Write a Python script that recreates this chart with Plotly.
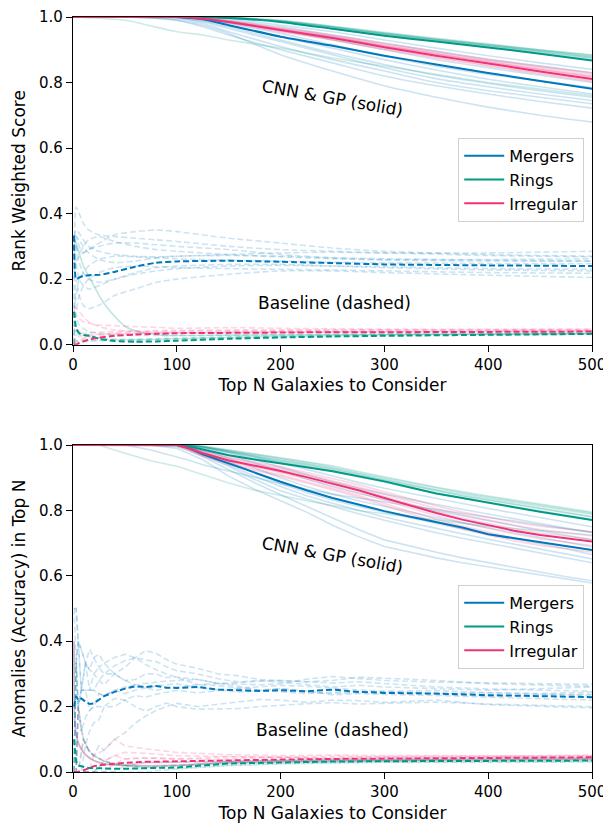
import plotly.graph_objects as go

# ---------------- colours ----------------
C_MERG = "#0077BB"
C_RING = "#009988"
C_IRR = "#EE3377"
F_MERG = "rgba(0,119,187,0.20)"
F_RING = "rgba(0,153,136,0.20)"
F_IRR = "rgba(238,51,119,0.20)"

# ============ TOP PANEL: rank weighted score ============
n_top_solid = [0, 50, 100, 125, 150, 200, 250, 300, 350, 400, 450, 500]
top_merg_cnn = [1.0, 1.0, 1.0, 0.993, 0.975, 0.94, 0.912, 0.882, 0.855, 0.829, 0.805, 0.781]
top_ring_cnn = [1.0, 1.0, 1.0, 1.0, 0.997, 0.985, 0.964, 0.943, 0.925, 0.907, 0.888, 0.867]
top_irr_cnn = [1.0, 1.0, 1.0, 0.995, 0.985, 0.96, 0.936, 0.908, 0.882, 0.858, 0.834, 0.811]

top_merg_cnn_runs = [
    [1, 1, 0.99, 0.975, 0.95, 0.885, 0.835, 0.79, 0.755, 0.725, 0.70, 0.679],
    [1, 1, 0.99, 0.97, 0.945, 0.90, 0.86, 0.82, 0.79, 0.765, 0.742, 0.722],
    [1, 1, 0.995, 0.98, 0.955, 0.91, 0.87, 0.835, 0.80, 0.775, 0.755, 0.735],
    [1, 1, 0.998, 0.985, 0.965, 0.925, 0.885, 0.845, 0.812, 0.787, 0.765, 0.745],
    [1, 1, 0.998, 0.988, 0.97, 0.93, 0.89, 0.855, 0.822, 0.797, 0.775, 0.755],
    [1, 1, 1, 0.99, 0.975, 0.94, 0.905, 0.87, 0.838, 0.81, 0.787, 0.765],
    [1, 1, 1, 0.993, 0.98, 0.95, 0.915, 0.88, 0.85, 0.825, 0.805, 0.785],
    [1, 1, 1, 0.995, 0.985, 0.96, 0.93, 0.90, 0.87, 0.845, 0.822, 0.80],
    [1, 1, 1, 0.997, 0.99, 0.97, 0.945, 0.92, 0.895, 0.87, 0.85, 0.83],
    [1, 1, 1, 1, 0.995, 0.975, 0.955, 0.93, 0.905, 0.882, 0.86, 0.84],
]
top_ring_cnn_runs = [
    [1, 1, 1, 1, 0.998, 0.988, 0.97, 0.95, 0.932, 0.915, 0.898, 0.88],
    [1, 1, 1, 1, 0.998, 0.99, 0.972, 0.953, 0.935, 0.918, 0.9, 0.883],
    [1, 1, 1, 1, 0.997, 0.986, 0.967, 0.947, 0.929, 0.911, 0.893, 0.874],
    [1, 1, 1, 1, 0.998, 0.989, 0.971, 0.951, 0.933, 0.916, 0.899, 0.885],
    [1, 1, 1, 1, 0.996, 0.984, 0.964, 0.944, 0.926, 0.908, 0.889, 0.87],
    [1, 1, 1, 1, 0.998, 0.988, 0.969, 0.949, 0.931, 0.914, 0.896, 0.878],
    [1, 1, 1, 1, 0.997, 0.987, 0.968, 0.948, 0.93, 0.912, 0.894, 0.876],
    [1, 0.99, 0.955, 0.945, 0.93, 0.905, 0.875, 0.85, 0.825, 0.80, 0.78, 0.76],
]
top_irr_cnn_runs = [
    [1, 1, 1, 0.996, 0.987, 0.963, 0.94, 0.913, 0.888, 0.864, 0.842, 0.82],
    [1, 1, 1, 0.997, 0.988, 0.965, 0.942, 0.916, 0.891, 0.868, 0.846, 0.825],
    [1, 1, 1, 0.994, 0.983, 0.957, 0.932, 0.904, 0.878, 0.853, 0.829, 0.806],
    [1, 1, 1, 0.995, 0.985, 0.96, 0.937, 0.91, 0.885, 0.861, 0.838, 0.815],
    [1, 1, 1, 0.993, 0.982, 0.955, 0.93, 0.901, 0.875, 0.85, 0.826, 0.803],
    [1, 1, 1, 0.997, 0.989, 0.967, 0.945, 0.92, 0.895, 0.872, 0.85, 0.83],
    [1, 1, 1, 0.996, 0.986, 0.962, 0.939, 0.912, 0.887, 0.863, 0.84, 0.818],
]
# early decaying faint solid curve (top)
n_top_decay = [1, 5, 10, 19, 27, 35, 51, 65, 83, 100, 150, 250, 500]
top_ring_decay = [0.33, 0.29, 0.24, 0.187, 0.14, 0.105, 0.054, 0.038, 0.03, 0.028, 0.029, 0.031, 0.035]

n_top_base = [1, 3, 6, 10, 15, 25, 40, 60, 80, 100, 150, 200, 250, 300, 400, 500]
top_merg_base = [0.333, 0.2, 0.205, 0.21, 0.212, 0.213, 0.222, 0.238, 0.25, 0.254, 0.256, 0.253, 0.249, 0.245, 0.242, 0.24]
top_irr_base = [0.0, 0.0, 0.005, 0.01, 0.015, 0.021, 0.027, 0.031, 0.033, 0.035, 0.036, 0.037, 0.038, 0.038, 0.039, 0.04]
top_ring_base = [0.1, 0.05, 0.035, 0.03, 0.028, 0.018, 0.011, 0.009, 0.01, 0.012, 0.018, 0.022, 0.025, 0.027, 0.03, 0.033]

top_merg_base_runs = [
    [0.0, 0.42, 0.40, 0.37, 0.35, 0.335, 0.33, 0.325, 0.32, 0.315, 0.30, 0.29, 0.285, 0.28, 0.28, 0.285],
    [0.0, 0.2, 0.15, 0.12, 0.11, 0.12, 0.15, 0.17, 0.19, 0.20, 0.215, 0.225, 0.225, 0.22, 0.212, 0.205],
    [0.33, 0.33, 0.3, 0.28, 0.29, 0.31, 0.335, 0.345, 0.35, 0.345, 0.325, 0.31, 0.295, 0.285, 0.275, 0.27],
    [0.33, 0.25, 0.2, 0.18, 0.17, 0.18, 0.2, 0.22, 0.235, 0.24, 0.245, 0.245, 0.24, 0.235, 0.228, 0.225],
    [0.33, 0.3, 0.28, 0.3, 0.32, 0.33, 0.315, 0.3, 0.29, 0.285, 0.275, 0.268, 0.262, 0.258, 0.255, 0.255],
    [0.2, 0.25, 0.27, 0.28, 0.29, 0.3, 0.31, 0.31, 0.305, 0.3, 0.29, 0.275, 0.265, 0.26, 0.26, 0.262],
    [0.33, 0.3, 0.25, 0.22, 0.2, 0.19, 0.2, 0.215, 0.225, 0.232, 0.24, 0.242, 0.24, 0.238, 0.232, 0.23],
    [0.1, 0.15, 0.2, 0.22, 0.24, 0.26, 0.27, 0.268, 0.265, 0.262, 0.258, 0.255, 0.252, 0.25, 0.248, 0.247],
    [0.33, 0.33, 0.32, 0.3, 0.28, 0.26, 0.25, 0.255, 0.265, 0.27, 0.272, 0.27, 0.265, 0.262, 0.258, 0.255],
    [0.0, 0.1, 0.15, 0.18, 0.2, 0.22, 0.235, 0.24, 0.238, 0.235, 0.232, 0.23, 0.228, 0.225, 0.22, 0.218],
    [0.33, 0.35, 0.34, 0.32, 0.3, 0.285, 0.275, 0.27, 0.268, 0.27, 0.275, 0.28, 0.282, 0.28, 0.272, 0.268],
]
top_irr_base_runs = [
    [0.1, 0.09, 0.08, 0.07, 0.065, 0.06, 0.058, 0.055, 0.053, 0.05, 0.052, 0.05, 0.048, 0.047, 0.046, 0.046],
    [0.0, 0.01, 0.015, 0.02, 0.025, 0.03, 0.035, 0.038, 0.04, 0.041, 0.042, 0.043, 0.043, 0.044, 0.044, 0.045],
    [0.0, 0.0, 0.01, 0.015, 0.02, 0.025, 0.03, 0.033, 0.035, 0.036, 0.038, 0.039, 0.04, 0.04, 0.041, 0.042],
    [0.05, 0.04, 0.035, 0.035, 0.036, 0.038, 0.04, 0.042, 0.043, 0.044, 0.045, 0.045, 0.046, 0.046, 0.047, 0.048],
    [0.0, 0.02, 0.025, 0.028, 0.03, 0.032, 0.033, 0.034, 0.035, 0.036, 0.037, 0.038, 0.039, 0.04, 0.04, 0.041],
    [0.12, 0.11, 0.1, 0.085, 0.07, 0.055, 0.045, 0.04, 0.038, 0.037, 0.037, 0.038, 0.038, 0.039, 0.04, 0.04],
]
top_ring_base_runs = [
    [0.1, 0.06, 0.04, 0.03, 0.025, 0.02, 0.017, 0.016, 0.017, 0.018, 0.022, 0.025, 0.027, 0.029, 0.031, 0.033],
    [0.0, 0.0, 0.005, 0.008, 0.01, 0.012, 0.014, 0.016, 0.018, 0.02, 0.024, 0.027, 0.029, 0.03, 0.032, 0.034],
    [0.0, 0.03, 0.03, 0.028, 0.025, 0.02, 0.015, 0.014, 0.015, 0.017, 0.021, 0.024, 0.026, 0.028, 0.03, 0.031],
    [0.1, 0.08, 0.06, 0.05, 0.04, 0.035, 0.03, 0.028, 0.028, 0.028, 0.029, 0.03, 0.031, 0.032, 0.033, 0.035],
    [0.0, 0.01, 0.012, 0.013, 0.013, 0.013, 0.013, 0.014, 0.016, 0.018, 0.022, 0.025, 0.028, 0.03, 0.032, 0.033],
]

# ============ BOTTOM PANEL: accuracy in top N ============
n_bot_solid = [0, 25, 50, 75, 100, 110, 125, 150, 175, 200, 225, 250, 275, 300, 325, 350, 375, 400, 425, 450, 475, 500]
bot_merg_cnn = [1, 1, 1, 1, 1.0, 0.993, 0.972, 0.944, 0.915, 0.888, 0.862, 0.838, 0.818, 0.798, 0.781, 0.765, 0.748, 0.727, 0.715, 0.703, 0.692, 0.679]
bot_ring_cnn = [1, 1, 1, 1, 1.0, 0.997, 0.987, 0.969, 0.956, 0.945, 0.932, 0.92, 0.905, 0.889, 0.87, 0.852, 0.838, 0.823, 0.81, 0.796, 0.783, 0.771]
bot_irr_cnn = [1, 1, 1, 1, 1.0, 0.992, 0.975, 0.953, 0.937, 0.921, 0.902, 0.882, 0.862, 0.838, 0.815, 0.792, 0.772, 0.754, 0.738, 0.725, 0.714, 0.705]

bot_merg_cnn_runs = [
    [1, 1, 1, 1, 0.99, 0.975, 0.955, 0.905, 0.865, 0.83, 0.795, 0.755, 0.72, 0.69, 0.672, 0.655, 0.64, 0.628, 0.615, 0.603, 0.59, 0.578],
    [1, 1, 1, 1, 0.995, 0.985, 0.965, 0.925, 0.885, 0.848, 0.812, 0.778, 0.742, 0.71, 0.69, 0.672, 0.655, 0.64, 0.625, 0.61, 0.597, 0.585],
    [1, 1, 1, 1, 1, 0.99, 0.97, 0.935, 0.895, 0.86, 0.835, 0.812, 0.79, 0.77, 0.75, 0.732, 0.715, 0.70, 0.685, 0.67, 0.655, 0.64],
    [1, 1, 1, 1, 1, 0.99, 0.975, 0.94, 0.905, 0.873, 0.845, 0.822, 0.80, 0.78, 0.762, 0.745, 0.728, 0.712, 0.697, 0.682, 0.668, 0.652],
    [1, 1, 1, 1, 1, 0.995, 0.98, 0.95, 0.915, 0.882, 0.855, 0.832, 0.812, 0.794, 0.776, 0.76, 0.744, 0.728, 0.713, 0.698, 0.683, 0.665],
    [1, 1, 1, 1, 1, 0.995, 0.985, 0.96, 0.93, 0.90, 0.873, 0.85, 0.83, 0.812, 0.795, 0.778, 0.762, 0.747, 0.732, 0.717, 0.703, 0.688],
    [1, 1, 1, 1, 1, 1, 0.99, 0.97, 0.945, 0.92, 0.895, 0.872, 0.852, 0.834, 0.817, 0.80, 0.784, 0.768, 0.753, 0.738, 0.724, 0.71],
    [1, 1, 1, 1, 1, 1, 0.995, 0.978, 0.955, 0.932, 0.91, 0.888, 0.868, 0.85, 0.834, 0.818, 0.803, 0.788, 0.774, 0.76, 0.746, 0.733],
    [1, 1, 1, 1, 1, 1, 0.995, 0.982, 0.965, 0.945, 0.925, 0.905, 0.886, 0.868, 0.852, 0.836, 0.821, 0.806, 0.792, 0.778, 0.764, 0.75],
    [1, 1, 1, 0.985, 0.965, 0.955, 0.94, 0.92, 0.9, 0.882, 0.865, 0.85, 0.838, 0.826, 0.814, 0.802, 0.79, 0.778, 0.766, 0.755, 0.744, 0.733],
]
bot_ring_cnn_runs = [
    [1, 1, 1, 1, 1, 1, 0.995, 0.982, 0.968, 0.956, 0.944, 0.93, 0.912, 0.897, 0.88, 0.864, 0.85, 0.837, 0.825, 0.812, 0.8, 0.788],
    [1, 1, 1, 1, 1, 1, 0.993, 0.978, 0.964, 0.951, 0.939, 0.925, 0.907, 0.891, 0.874, 0.858, 0.844, 0.831, 0.818, 0.805, 0.792, 0.78],
    [1, 1, 1, 1, 1, 1, 0.997, 0.986, 0.973, 0.961, 0.95, 0.937, 0.919, 0.904, 0.887, 0.871, 0.857, 0.844, 0.832, 0.819, 0.807, 0.795],
    [1, 1, 1, 1, 1, 1, 0.992, 0.976, 0.961, 0.948, 0.935, 0.921, 0.903, 0.886, 0.869, 0.853, 0.838, 0.825, 0.812, 0.799, 0.786, 0.773],
    [1, 1, 1, 1, 1, 1, 0.996, 0.984, 0.971, 0.959, 0.947, 0.933, 0.915, 0.9, 0.884, 0.868, 0.854, 0.841, 0.829, 0.816, 0.804, 0.792],
    [1, 1, 1, 1, 1, 1, 0.994, 0.98, 0.966, 0.953, 0.941, 0.927, 0.909, 0.893, 0.876, 0.86, 0.846, 0.833, 0.82, 0.807, 0.794, 0.781],
    [1, 1, 0.975, 0.952, 0.935, 0.925, 0.908, 0.884, 0.862, 0.845, 0.83, 0.815, 0.80, 0.79, 0.78, 0.77, 0.76, 0.752, 0.745, 0.738, 0.732, 0.725],
]
bot_irr_cnn_runs = [
    [1, 1, 1, 1, 1, 0.995, 0.98, 0.96, 0.944, 0.929, 0.91, 0.891, 0.872, 0.85, 0.828, 0.806, 0.787, 0.77, 0.755, 0.742, 0.731, 0.722],
    [1, 1, 1, 1, 0.998, 0.988, 0.968, 0.944, 0.926, 0.909, 0.888, 0.867, 0.846, 0.821, 0.797, 0.773, 0.752, 0.733, 0.716, 0.701, 0.69, 0.68],
    [1, 1, 1, 1, 1, 0.993, 0.977, 0.956, 0.94, 0.925, 0.906, 0.886, 0.867, 0.843, 0.82, 0.797, 0.777, 0.76, 0.744, 0.731, 0.721, 0.712],
    [1, 1, 1, 1, 0.999, 0.99, 0.972, 0.949, 0.932, 0.916, 0.896, 0.875, 0.855, 0.831, 0.807, 0.784, 0.763, 0.745, 0.728, 0.714, 0.703, 0.693],
    [1, 1, 1, 1, 1, 0.996, 0.983, 0.963, 0.948, 0.934, 0.916, 0.897, 0.879, 0.857, 0.835, 0.814, 0.795, 0.779, 0.764, 0.752, 0.743, 0.735],
    [1, 1, 1, 1, 0.998, 0.986, 0.965, 0.94, 0.922, 0.905, 0.884, 0.862, 0.841, 0.815, 0.79, 0.765, 0.743, 0.724, 0.707, 0.693, 0.682, 0.673],
]
n_bot_decay = [1, 2, 5, 10, 15, 20, 30, 50, 100, 150, 200, 300, 400, 500]
bot_irr_decay = [0.4, 0.14, 0.09, 0.06, 0.045, 0.035, 0.025, 0.02, 0.02, 0.03, 0.033, 0.036, 0.038, 0.04]

n_bot_base = [1, 3, 5, 8, 12, 16, 20, 25, 30, 40, 50, 60, 70, 80, 90, 100, 120, 140, 160, 180, 200, 225, 250, 275, 300, 350, 400, 450, 500]
bot_merg_base = [0.2, 0.233, 0.22, 0.225, 0.215, 0.208, 0.21, 0.22, 0.232, 0.245, 0.255, 0.262, 0.26, 0.263, 0.258, 0.257, 0.26, 0.252, 0.25, 0.248, 0.25, 0.247, 0.252, 0.245, 0.242, 0.24, 0.235, 0.232, 0.229]
bot_merg_base_runs = [
    [0.5, 0.5, 0.4, 0.375, 0.333, 0.313, 0.3, 0.32, 0.3, 0.325, 0.34, 0.35, 0.343, 0.338, 0.322, 0.31, 0.3, 0.285, 0.275, 0.28, 0.275, 0.268, 0.26, 0.265, 0.26, 0.255, 0.25, 0.255, 0.26],
    [0.0, 0.0, 0.2, 0.25, 0.25, 0.25, 0.3, 0.28, 0.267, 0.3, 0.32, 0.35, 0.371, 0.363, 0.344, 0.33, 0.317, 0.3, 0.294, 0.283, 0.28, 0.276, 0.28, 0.29, 0.287, 0.28, 0.27, 0.265, 0.262],
    [0.0, 0.0, 0.0, 0.0, 0.083, 0.063, 0.05, 0.08, 0.067, 0.1, 0.12, 0.15, 0.171, 0.188, 0.2, 0.21, 0.2, 0.207, 0.213, 0.222, 0.22, 0.213, 0.22, 0.218, 0.213, 0.22, 0.206, 0.2, 0.196],
    [0.0, 0.333, 0.4, 0.25, 0.25, 0.25, 0.25, 0.24, 0.233, 0.25, 0.24, 0.25, 0.257, 0.263, 0.267, 0.27, 0.258, 0.25, 0.244, 0.25, 0.255, 0.248, 0.236, 0.24, 0.237, 0.234, 0.228, 0.224, 0.22],
    [0.5, 0.333, 0.2, 0.125, 0.167, 0.188, 0.2, 0.2, 0.2, 0.225, 0.22, 0.233, 0.229, 0.238, 0.244, 0.25, 0.242, 0.25, 0.256, 0.261, 0.265, 0.262, 0.256, 0.251, 0.247, 0.24, 0.243, 0.238, 0.234],
    [0.0, 0.333, 0.2, 0.25, 0.333, 0.313, 0.35, 0.36, 0.333, 0.3, 0.28, 0.267, 0.271, 0.275, 0.278, 0.28, 0.283, 0.271, 0.269, 0.267, 0.27, 0.284, 0.292, 0.285, 0.28, 0.275, 0.272, 0.27, 0.268],
    [0.0, 0.0, 0.2, 0.125, 0.083, 0.125, 0.15, 0.16, 0.2, 0.2, 0.22, 0.2, 0.186, 0.2, 0.211, 0.2, 0.192, 0.193, 0.194, 0.2, 0.205, 0.209, 0.212, 0.208, 0.21, 0.214, 0.208, 0.205, 0.2],
    [0.0, 0.333, 0.4, 0.375, 0.333, 0.25, 0.25, 0.28, 0.3, 0.3, 0.28, 0.283, 0.3, 0.3, 0.289, 0.29, 0.283, 0.271, 0.262, 0.25, 0.245, 0.24, 0.244, 0.247, 0.243, 0.238, 0.232, 0.236, 0.238],
    [0.5, 0.5, 0.4, 0.25, 0.25, 0.188, 0.2, 0.24, 0.233, 0.25, 0.26, 0.267, 0.257, 0.25, 0.256, 0.26, 0.267, 0.264, 0.256, 0.25, 0.255, 0.244, 0.24, 0.244, 0.247, 0.249, 0.242, 0.24, 0.244],
    [0.0, 0.0, 0.2, 0.25, 0.333, 0.375, 0.35, 0.32, 0.333, 0.35, 0.36, 0.35, 0.329, 0.313, 0.3, 0.29, 0.267, 0.271, 0.275, 0.278, 0.28, 0.276, 0.272, 0.276, 0.27, 0.26, 0.254, 0.25, 0.247],
]

n_bot_low = [1, 3, 5, 10, 15, 20, 30, 40, 50, 70, 100, 150, 200, 250, 300, 350, 400, 450, 500]
bot_irr_base = [0.0, 0.0, 0.0, 0.005, 0.012, 0.018, 0.022, 0.025, 0.028, 0.031, 0.033, 0.036, 0.038, 0.04, 0.041, 0.042, 0.043, 0.044, 0.045]
bot_ring_base = [0.1, 0.033, 0.02, 0.015, 0.012, 0.012, 0.01, 0.01, 0.01, 0.011, 0.014, 0.026, 0.03, 0.032, 0.033, 0.034, 0.034, 0.035, 0.035]
bot_irr_base_runs = [
    [0, 0, 0.2, 0.1, 0.067, 0.05, 0.067, 0.1, 0.08, 0.071, 0.06, 0.053, 0.05, 0.052, 0.05, 0.051, 0.05, 0.049, 0.05],
    [0, 0, 0, 0, 0, 0.05, 0.033, 0.05, 0.06, 0.057, 0.05, 0.047, 0.045, 0.048, 0.047, 0.046, 0.048, 0.047, 0.048],
    [0, 0, 0, 0, 0, 0, 0.033, 0.025, 0.02, 0.029, 0.03, 0.033, 0.035, 0.04, 0.043, 0.04, 0.042, 0.044, 0.043],
    [0, 0, 0, 0.1, 0.067, 0.05, 0.033, 0.05, 0.04, 0.043, 0.04, 0.04, 0.045, 0.044, 0.047, 0.049, 0.048, 0.05, 0.052],
    [0, 0, 0, 0, 0, 0, 0, 0.025, 0.04, 0.043, 0.04, 0.047, 0.045, 0.04, 0.04, 0.043, 0.045, 0.044, 0.042],
]
bot_ring_base_runs = [
    [0, 0, 0, 0, 0, 0, 0, 0, 0.02, 0.014, 0.02, 0.027, 0.03, 0.032, 0.033, 0.031, 0.032, 0.034, 0.033],
    [0, 0, 0, 0, 0, 0, 0.033, 0.025, 0.02, 0.014, 0.01, 0.02, 0.025, 0.028, 0.03, 0.031, 0.033, 0.032, 0.034],
    [0, 0.333, 0.2, 0.1, 0.067, 0.05, 0.033, 0.025, 0.02, 0.029, 0.03, 0.033, 0.035, 0.036, 0.037, 0.036, 0.038, 0.037, 0.037],
    [0, 0, 0, 0, 0, 0, 0, 0, 0, 0, 0.01, 0.02, 0.025, 0.028, 0.03, 0.029, 0.03, 0.031, 0.03],
    [0, 0, 0, 0.1, 0.067, 0.05, 0.033, 0.025, 0.02, 0.014, 0.02, 0.026, 0.03, 0.032, 0.035, 0.037, 0.036, 0.035, 0.036],
]

series_names = ["Mergers", "Rings", "Irregular"]
y_ticks = [0.0, 0.2, 0.4, 0.6, 0.8, 1.0]
x_ticks = [0, 100, 200, 300, 400, 500]

# ---------------- figure ----------------
fig = go.Figure()
DASH = "6px,3px"


def add(x, y, color, width, dash, ax, shape="linear", name=None, legend=None):
    fig.add_trace(go.Scatter(
        x=x, y=y, mode="lines",
        line=dict(color=color, width=width, dash=dash, shape=shape,
                  **({"smoothing": 0.6} if shape == "spline" else {})),
        xaxis="x" if ax == 1 else "x2", yaxis="y" if ax == 1 else "y2",
        name=name, showlegend=name is not None,
        legend=legend if legend else "legend",
        hoverinfo="skip",
    ))


# top faint
for r in top_merg_cnn_runs:
    add(n_top_solid, r, F_MERG, 1.6, "solid", 1, "spline")
for r in top_ring_cnn_runs:
    add(n_top_solid, r, F_RING, 1.6, "solid", 1, "spline")
for r in top_irr_cnn_runs:
    add(n_top_solid, r, F_IRR, 1.6, "solid", 1, "spline")
add(n_top_decay, top_ring_decay, "rgba(0,153,136,0.25)", 1.6, "solid", 1, "spline")
for r in top_merg_base_runs:
    add(n_top_base, r, F_MERG, 1.6, DASH, 1, "spline")
for r in top_irr_base_runs:
    add(n_top_base, r, F_IRR, 1.6, DASH, 1, "spline")
for r in top_ring_base_runs:
    add(n_top_base, r, F_RING, 1.6, DASH, 1, "spline")
# top main
add(n_top_base, top_ring_base, C_RING, 2.0, DASH, 1, "spline")
add(n_top_base, top_irr_base, C_IRR, 2.0, DASH, 1, "spline")
add(n_top_base, top_merg_base, C_MERG, 2.0, DASH, 1, "spline")
add(n_top_solid, top_merg_cnn, C_MERG, 2.0, "solid", 1, "spline", series_names[0], "legend")
add(n_top_solid, top_ring_cnn, C_RING, 2.0, "solid", 1, "spline", series_names[1], "legend")
add(n_top_solid, top_irr_cnn, C_IRR, 2.0, "solid", 1, "spline", series_names[2], "legend")

# bottom faint
for r in bot_merg_cnn_runs:
    add(n_bot_solid, r, F_MERG, 1.6, "solid", 2)
for r in bot_ring_cnn_runs:
    add(n_bot_solid, r, F_RING, 1.6, "solid", 2)
for r in bot_irr_cnn_runs:
    add(n_bot_solid, r, F_IRR, 1.6, "solid", 2)
add(n_bot_decay, bot_irr_decay, "rgba(160,80,140,0.45)", 1.8, "solid", 2, "spline")
for r in bot_merg_base_runs:
    add(n_bot_base, r, F_MERG, 1.6, DASH, 2)
for r in bot_irr_base_runs:
    add(n_bot_low, r, F_IRR, 1.6, DASH, 2)
for r in bot_ring_base_runs:
    add(n_bot_low, r, F_RING, 1.6, DASH, 2)
# bottom main
add(n_bot_low, bot_ring_base, C_RING, 2.0, DASH, 2)
add(n_bot_low, bot_irr_base, C_IRR, 2.0, DASH, 2)
add(n_bot_base, bot_merg_base, C_MERG, 2.0, DASH, 2)
add(n_bot_solid, bot_merg_cnn, C_MERG, 2.0, "solid", 2, "linear", series_names[0], "legend2")
add(n_bot_solid, bot_ring_cnn, C_RING, 2.0, "solid", 2, "linear", series_names[1], "legend2")
add(n_bot_solid, bot_irr_cnn, C_IRR, 2.0, "solid", 2, "linear", series_names[2], "legend2")

FONT = "DejaVu Sans"
axis_common = dict(
    showline=True, linecolor="black", linewidth=1.3, mirror=True,
    ticks="outside", ticklen=6, tickwidth=1.3, tickcolor="black",
    showgrid=False, zeroline=False, automargin=False,
    tickfont=dict(family=FONT, size=15, color="black"),
)
xaxis_common = dict(axis_common, range=[0, 500], tickvals=x_ticks,
                    title=dict(text="Top N Galaxies to Consider",
                               font=dict(family=FONT, size=17, color="black"), standoff=6))

legend_common = dict(
    xanchor="right", yanchor="top",
    bgcolor="rgba(255,255,255,0.8)", bordercolor="#d0d0d0", borderwidth=1,
    font=dict(family=FONT, size=16, color="black"),
    tracegroupgap=0, itemwidth=40,
)

ann_font = dict(family=FONT, size=17, color="black")
# the page body adds an 8px offset, compensated here in the margins
fig.update_layout(
    width=611, height=823,
    margin=dict(l=65.3, r=27.2, t=8.5, b=58.5),
    plot_bgcolor="white", paper_bgcolor="white",
    xaxis=dict(xaxis_common, domain=[0, 1], anchor="y"),
    yaxis=dict(axis_common, domain=[0.566, 1.0], range=[0, 1], tickvals=y_ticks,
               tickformat=".1f", anchor="x",
               title=dict(text="Rank Weighted Score",
                          font=dict(family=FONT, size=17, color="black"), standoff=9)),
    xaxis2=dict(xaxis_common, domain=[0, 1], anchor="y2"),
    yaxis2=dict(axis_common, domain=[0.0, 0.433], range=[0, 1], tickvals=y_ticks,
                tickformat=".1f", anchor="x2",
                title=dict(text="Anomalies (Accuracy) in Top N",
                           font=dict(family=FONT, size=17, color="black"), standoff=9)),
    legend=dict(legend_common, x=0.985, y=0.84),
    legend2=dict(legend_common, x=0.985, y=0.248),
    annotations=[
        dict(text="CNN & GP (solid)", x=250, y=0.753, xref="x", yref="y",
             showarrow=False, textangle=10, font=ann_font),
        dict(text="Baseline (dashed)", x=252, y=0.127, xref="x", yref="y",
             showarrow=False, font=ann_font),
        dict(text="CNN & GP (solid)", x=250, y=0.664, xref="x2", yref="y2",
             showarrow=False, textangle=10, font=ann_font),
        dict(text="Baseline (dashed)", x=250, y=0.13, xref="x2", yref="y2",
             showarrow=False, font=ann_font),
    ],
)

fig.write_html("out.html")
